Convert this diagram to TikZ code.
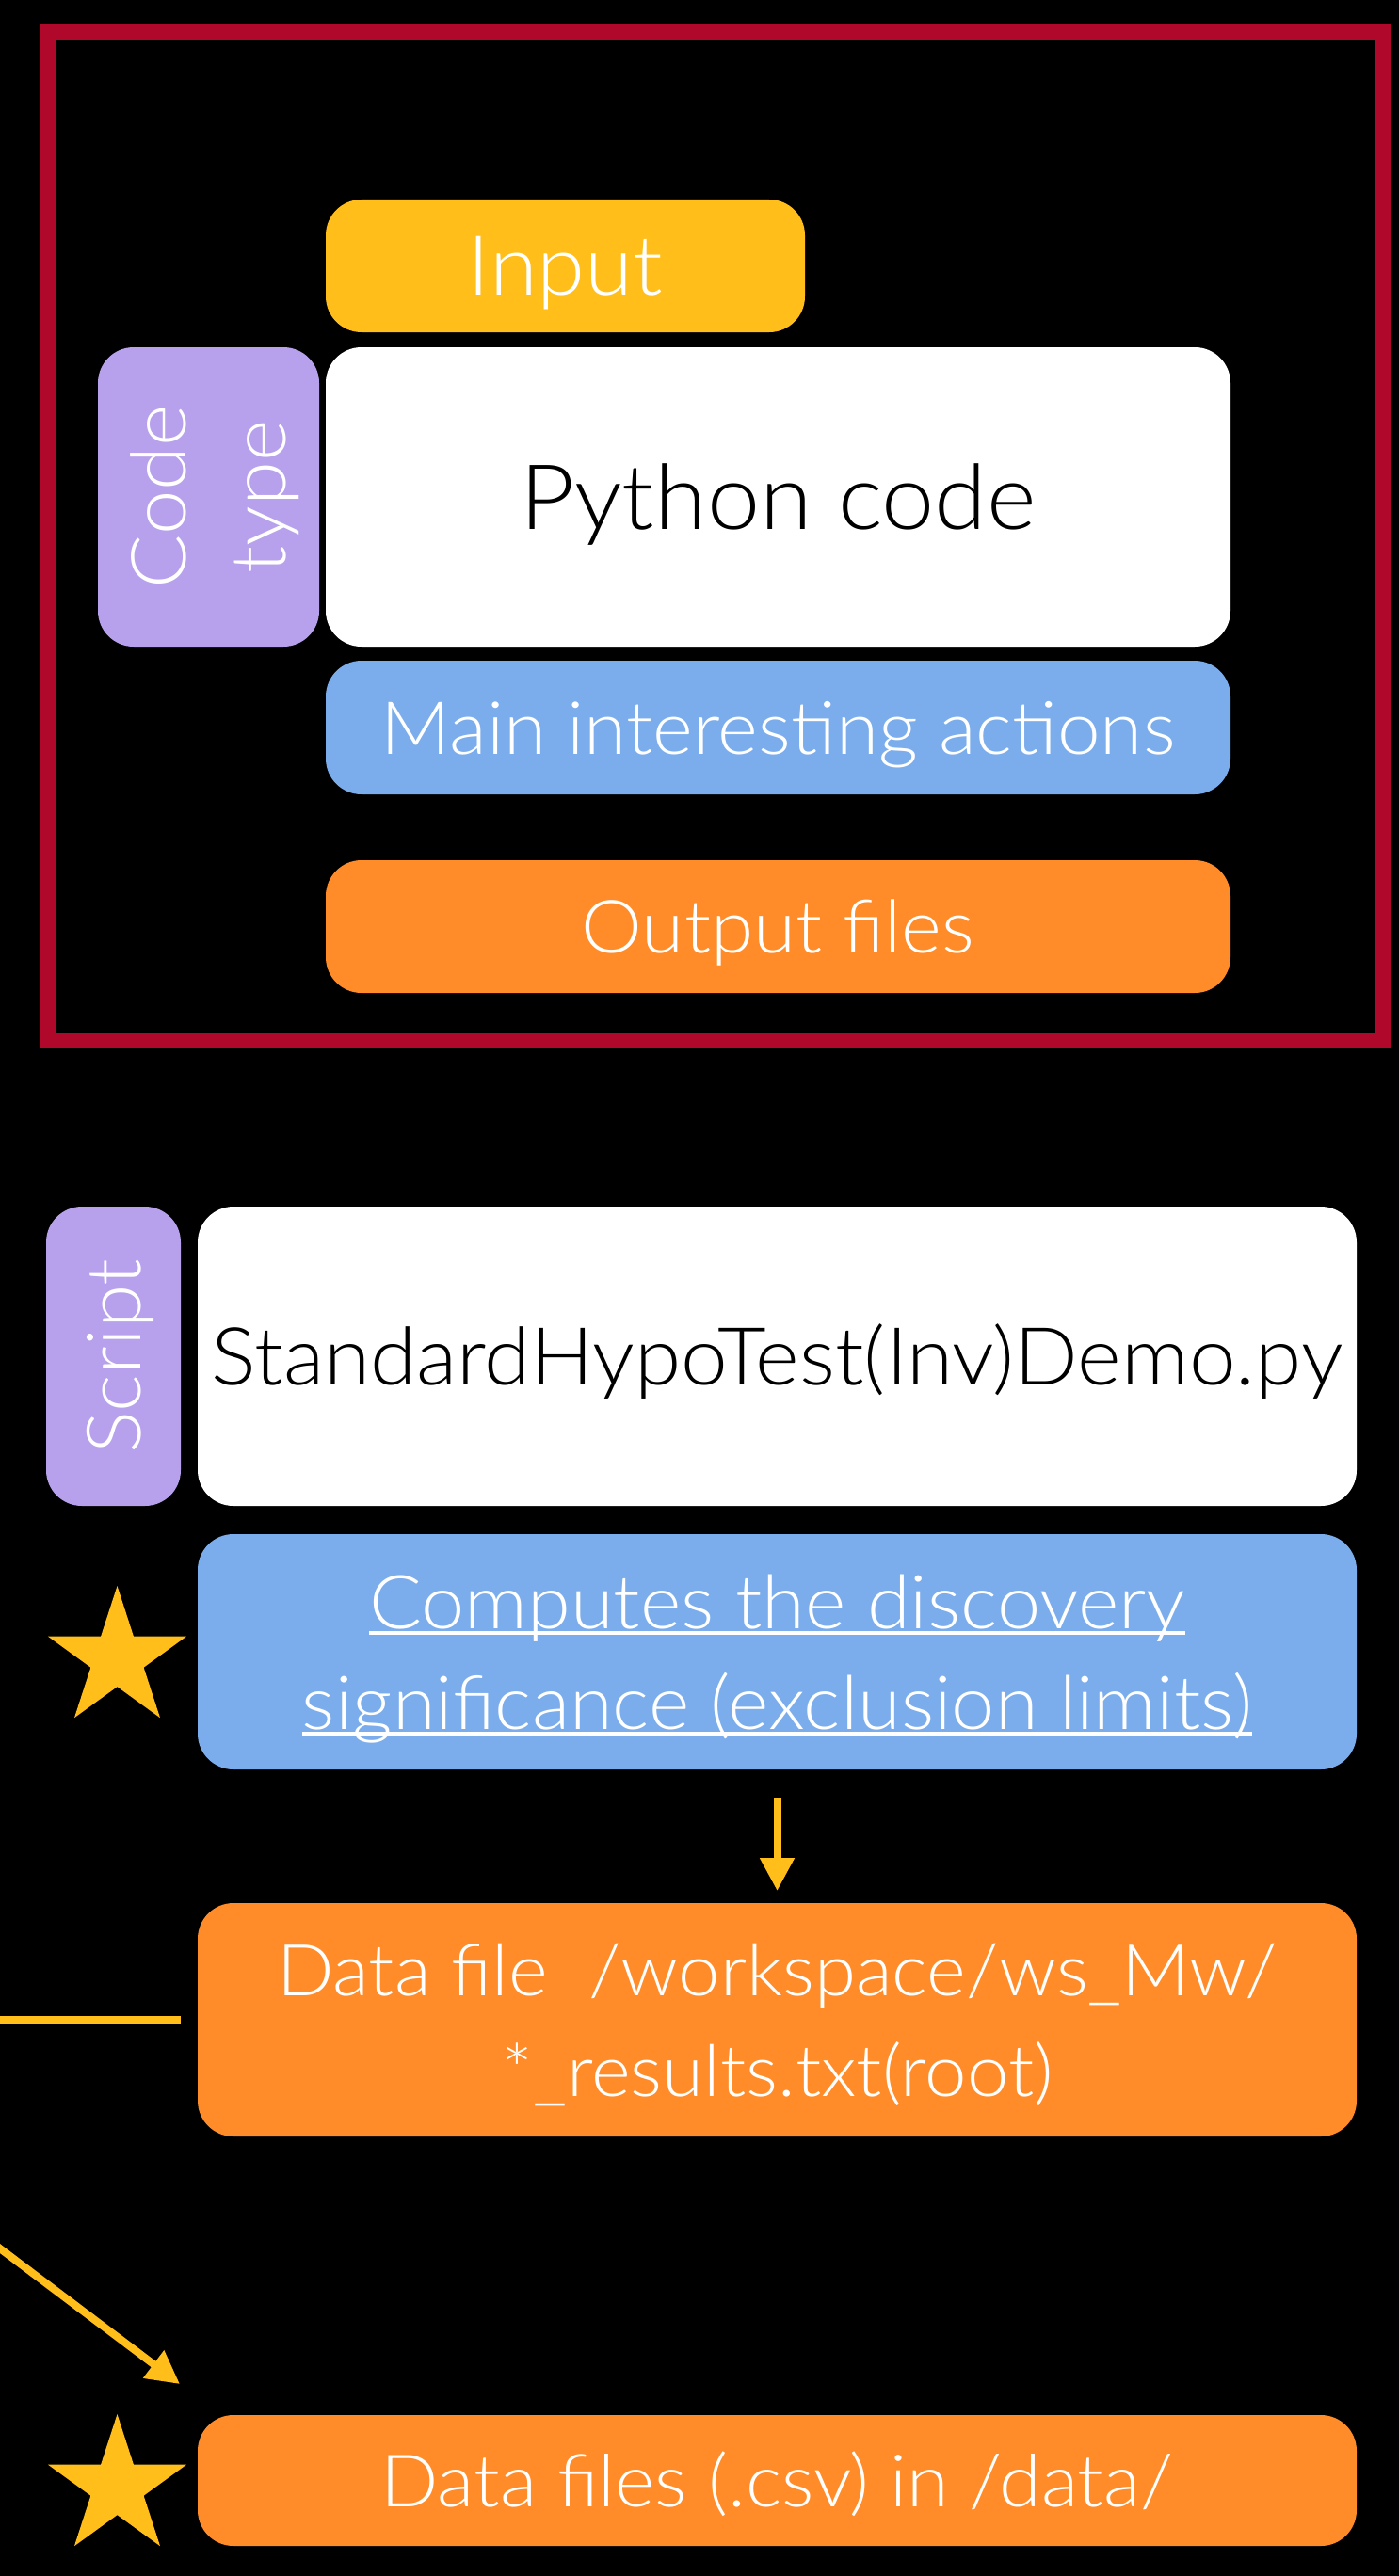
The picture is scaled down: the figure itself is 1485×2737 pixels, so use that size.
\documentclass[tikz,border=0pt]{standalone}
\usepackage{fontspec}
\setmainfont{Lato Light}[FakeStretch=1.05]
\usetikzlibrary{shapes.geometric,arrows.meta}
\definecolor{frameRed}{RGB}{175,8,42}
\definecolor{inYellow}{RGB}{255,190,26}
\definecolor{codePurple}{RGB}{184,161,236}
\definecolor{actBlue}{RGB}{123,173,236}
\definecolor{outOrange}{RGB}{255,140,40}
\newsavebox{\myulbox}
\newcommand{\myul}[1]{\sbox{\myulbox}{#1}\rlap{\rule[-7pt]{\wd\myulbox}{4pt}}\usebox{\myulbox}}
\newcommand{\fsz}[2]{\fontsize{#1pt}{#2pt}\selectfont}
\begin{document}
\begin{tikzpicture}[x=1pt,y=-1pt,
  rbox/.style={rounded corners=38pt, inner sep=0pt, outer sep=0pt, align=center, text=white},
  cap/.style={text height=#1, text depth=0pt},
  conn/.style={draw=inYellow, line width=8pt},
  arr/.style={conn, -{Triangle[length=35pt,width=35pt]}},
  starmark/.style={star, star points=5, star point ratio=2.618, minimum size=155pt, inner sep=0pt, outer sep=0pt, fill=inYellow}
]
\useasboundingbox (0,0) rectangle (1485,2737);
\fill[black] (-30,-30) rectangle (1515,2767);
\node[draw=frameRed, line width=16pt, minimum width=1418pt, minimum height=1072pt, inner sep=0pt] (frame) at (760,570) {};
\node[rbox, fill=inYellow, minimum width=509pt, minimum height=141pt, font=\fsz{88}{100}, cap=62pt] (input) at (600.5,282.5) {Input};
\node[rbox, fill=codePurple, rotate=90, minimum width=318pt, minimum height=235pt, font=\fsz{81}{106}, cap=164pt] (codetype) at (221.5,528) {Code\\type};
\node[rbox, fill=white, text=black, minimum width=961pt, minimum height=318pt, font=\fsz{96}{110}, cap=68pt] (python) at (826.5,528) {Python code};
\node[rbox, fill=actBlue, minimum width=961pt, minimum height=142pt, font=\fsz{78}{90}, cap=56pt] (actions) at (826.5,773) {Main interesting actions};
\node[rbox, fill=outOrange, minimum width=961pt, minimum height=141pt, font=\fsz{78}{90}, cap=56pt] (output) at (826.5,984.5) {Output files};

\node[rbox, fill=codePurple, rotate=90, minimum width=318pt, minimum height=143pt, font=\fsz{80}{90}, cap=57pt] (script) at (120.5,1441) {Script};
\node[rbox, fill=white, text=black, minimum width=1231pt, minimum height=318pt, font=\fsz{85}{100}, cap=61pt] (demo) at (825.5,1441) {StandardHypoTest(Inv)Demo.py};
\node[rbox, fill=actBlue, minimum width=1231pt, minimum height=250pt, font=\fsz{79}{107}, cap=164pt] (computes) at (825.5,1755) {\myul{Computes the discovery}\\\myul{significance (exclusion limits)}};
\node[rbox, fill=outOrange, minimum width=1231pt, minimum height=248pt, font=\fsz{76}{107}, cap=162pt] (datafile) at (825.5,2146) {Data file\ \ /workspace/ws\_Mw/\\{}*\_results.txt(root)};
\node[rbox, fill=outOrange, minimum width=1231pt, minimum height=139pt, font=\fsz{77}{90}, cap=55pt] (csv) at (825.5,2635.5) {Data files (.csv) in /data/};

\node[starmark] (star1) at (124.5,1762.5) {};
\node[starmark] (star2) at (124.5,2642.5) {};

\draw[arr] ([yshift=-30pt]computes.south) -- ([yshift=13pt]datafile.north);
\coordinate (hstart) at (-5,2146);
\draw[conn] (hstart) -- ([xshift=-18pt]datafile.west);
\coordinate (dstart) at (-10,2381.5);
\draw[arr] (dstart) -- ([xshift=-19pt,yshift=33pt]csv.north west);
\end{tikzpicture}
\end{document}
